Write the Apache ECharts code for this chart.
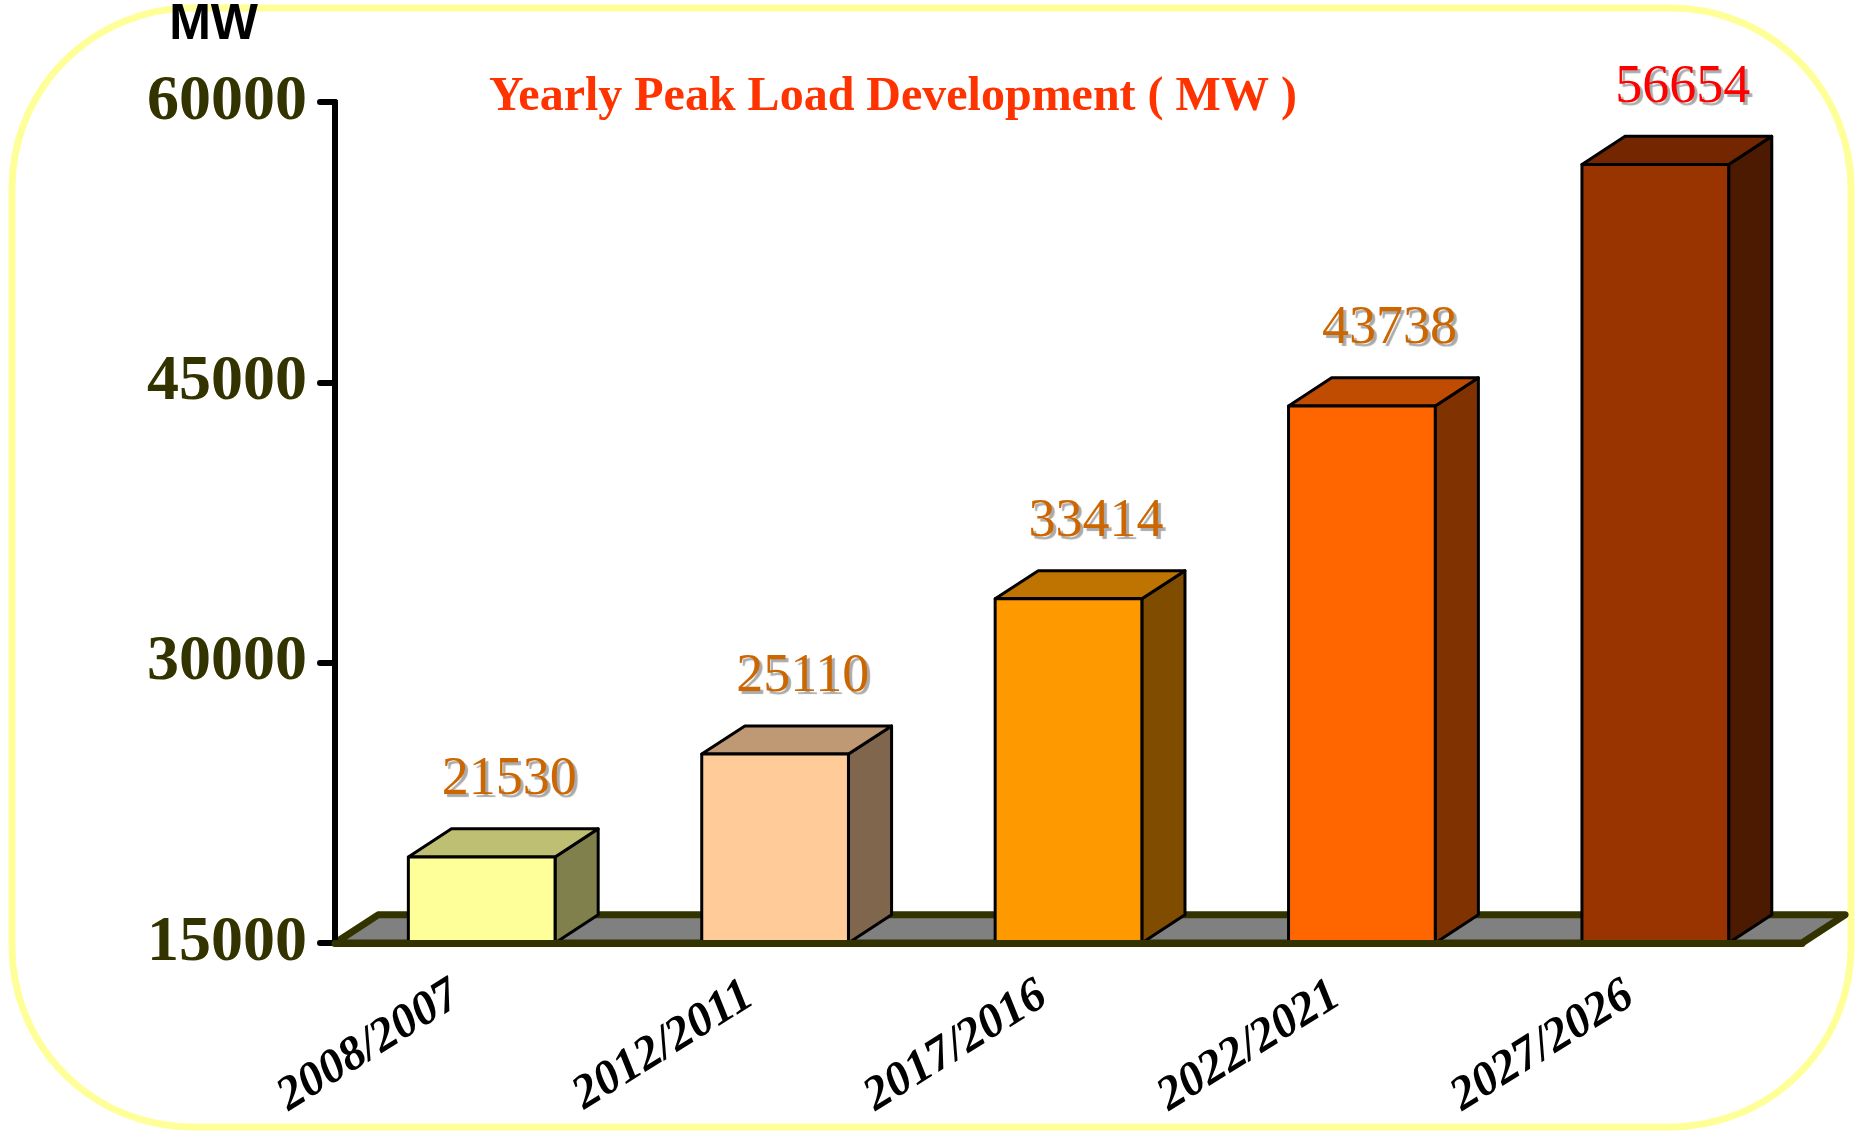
<!DOCTYPE html>
<html>
<head>
<meta charset="utf-8">
<script src="https://cdn.jsdelivr.net/npm/echarts@6/dist/echarts.min.js"></script>
<style>
html,body{margin:0;padding:0;background:#fff;}
#chart{width:1865px;height:1131px;}
</style>
</head>
<body>
<div id="chart"></div>
<script>
// ---- data ----
const categories = ['2008/2007', '2012/2011', '2017/2016', '2022/2021', '2027/2026'];
const peakLoad = [19600, 25110, 33414, 43738, 56654];          // bar heights as drawn
const labelText = ['21530', '25110', '33414', '43738', '56654']; // printed value labels
const yTicks = [15000, 30000, 45000, 60000];

// ---- styles ----
const frontColors = ['#FFFF99', '#FFCC99', '#FF9900', '#FF6600', '#993300'];
const topColors   = ['#BFBF73', '#BF9973', '#BF7300', '#BF4C00', '#732600'];
const sideColors  = ['#80804C', '#80664C', '#804C00', '#803300', '#4C1A00'];
const labelColors = ['#CC6600', '#CC6600', '#CC6600', '#CC6600', '#FF0000'];

const yMin = yTicks[0], yMax = yTicks[yTicks.length - 1], yStep = yTicks[1] - yTicks[0];
const DX = 0.147, DY = 0.096, BW = 0.5;

const chart = echarts.init(document.getElementById('chart'), null, {renderer: 'canvas'});

function renderFloor(params, api) {
  const cw = api.size([1, 0])[0];
  const p0 = api.coord([0, yMin]);
  const left = p0[0] - cw / 2;
  const right = left + cw * categories.length;
  const yb = p0[1];
  const dx = cw * DX, dy = cw * DY;
  return {
    type: 'polygon',
    shape: {points: [[left, yb], [left + dx, yb - dy], [right + dx, yb - dy], [right, yb]]},
    style: {fill: '#808080', stroke: '#333300', lineWidth: 7, lineJoin: 'round'}
  };
}

function renderBar(params, api) {
  const i = params.dataIndex;
  const cw = api.size([1, 0])[0];
  const base = api.coord([api.value(0), yMin]);
  const top = api.coord([api.value(0), api.value(1)]);
  const bw = cw * BW, dx = cw * DX, dy = cw * DY;
  const x0 = base[0] - bw / 2, x1 = base[0] + bw / 2;
  const yt = top[1], yb = base[1];
  const stroke = {stroke: '#000', lineWidth: 3, lineJoin: 'round'};
  return {
    type: 'group',
    children: [
      {type: 'polygon', shape: {points: [[x1, yt], [x1 + dx, yt - dy], [x1 + dx, yb - dy], [x1, yb]]},
        style: Object.assign({fill: sideColors[i]}, stroke)},
      {type: 'polygon', shape: {points: [[x0, yt], [x0 + dx, yt - dy], [x1 + dx, yt - dy], [x1, yt]]},
        style: Object.assign({fill: topColors[i]}, stroke)},
      {type: 'rect', shape: {x: x0, y: yt, width: bw, height: yb - yt},
        style: Object.assign({fill: frontColors[i]}, stroke)},
      {type: 'text',
        style: {
          text: labelText[i], x: base[0] + dx / 2 + 6, y: yt - 77,
          align: 'center', verticalAlign: 'middle',
          fontFamily: '"Liberation Serif", "Times New Roman", serif', fontSize: 54,
          fill: labelColors[i],
          textShadowColor: '#aaaaaa', textShadowOffsetX: 3, textShadowOffsetY: 3, textShadowBlur: 1
        }}
    ]
  };
}

chart.setOption({
  animation: false,
  backgroundColor: '#ffffff',
  title: {
    text: 'Yearly Peak Load Development ( MW )',
    left: 484, top: 69,
    textStyle: {color: '#FF3300', fontFamily: '"Liberation Serif", "Times New Roman", serif',
      fontWeight: 'bold', fontSize: 48}
  },
  graphic: [{
    type: 'rect', z: -10, silent: true,
    shape: {x: 12, y: 8, width: 1839, height: 1119, r: 180},
    style: {fill: null, stroke: '#FFFF99', lineWidth: 7}
  }],
  grid: {left: 335, right: 63, top: 100, bottom: 188, containLabel: false},
  xAxis: {
    type: 'category', data: categories, boundaryGap: true, z: 5,
    axisLine: {lineStyle: {color: '#333300', width: 7, cap: 'round'}},
    axisTick: {alignWithLabel: false, length: 17, lineStyle: {color: '#333300', width: 5, cap: 'round'}},
    axisLabel: {
      rotate: 32, margin: 33, interval: 0, align: 'right', padding: [0, 30, 0, 0],
      color: '#000', fontFamily: '"Liberation Serif", "Times New Roman", serif',
      fontWeight: 'bold', fontStyle: 'italic', fontSize: 48
    },
    splitLine: {show: false}
  },
  yAxis: {
    type: 'value', min: yMin, max: yMax, interval: yStep, z: 4,
    name: 'MW', nameLocation: 'end', nameGap: 52,
    nameTextStyle: {color: '#000', fontFamily: '"Liberation Sans", Arial, sans-serif', fontWeight: 'bold',
      fontSize: 50, align: 'right', verticalAlign: 'bottom', padding: [0, 77, 0, 0]},
    axisLine: {show: true, lineStyle: {color: '#000', width: 6, cap: 'round'}},
    axisTick: {show: true, length: 15, lineStyle: {color: '#000', width: 6, cap: 'round'}},
    axisLabel: {margin: 28, color: '#333300', fontFamily: '"Liberation Serif", "Times New Roman", serif',
      fontWeight: 'bold', fontSize: 64, formatter: v => String(v)},
    splitLine: {show: false}
  },
  series: [
    {type: 'custom', name: 'floor', z: 1, clip: false, silent: true,
      renderItem: renderFloor, data: [[0, yMin]]},
    {type: 'custom', name: 'Peak Load (MW)', z: 2, clip: false,
      renderItem: renderBar, encode: {x: 0, y: 1},
      data: categories.map((c, i) => [i, peakLoad[i]])}
  ]
});
</script>
</body>
</html>
